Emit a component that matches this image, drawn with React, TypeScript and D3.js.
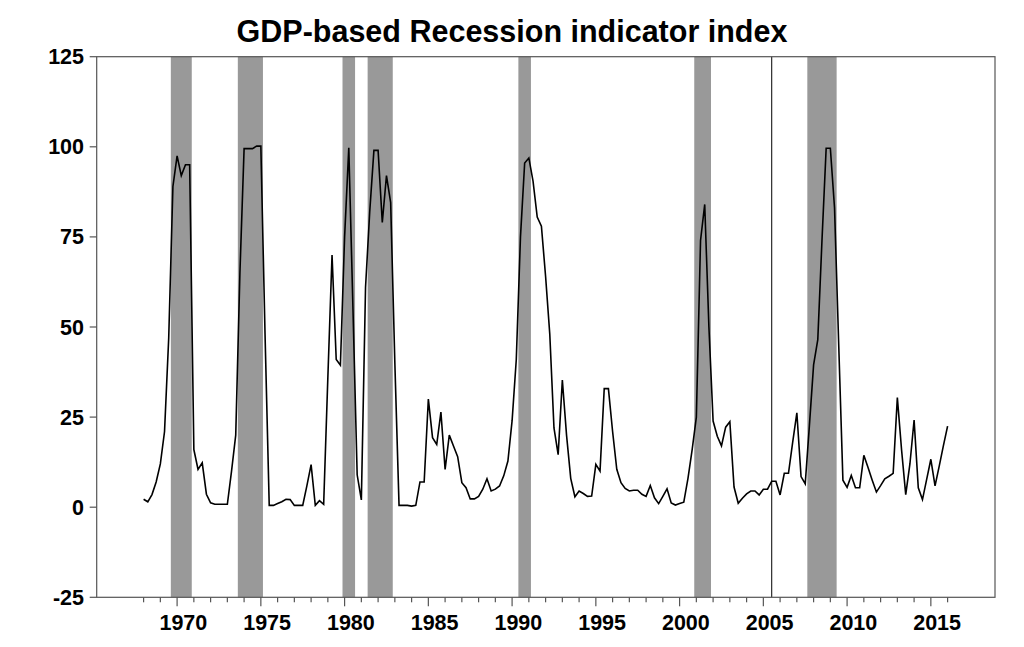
import React from "react";
import * as d3 from "d3";

// ---- Data ----
const chartTitle = "GDP-based Recession indicator index";
const firstObservation = { year: 1968, quarter: 1 };

// Quarterly index values, 1968Q1 .. 2016Q1
const recessionIndex: number[] = [
  // 1968-1973
  2.2, 1.5, 3.5, 7.0, 12, 21, 47, 89, 97.5, 92, 95, 95,
  16, 10.5, 12.3, 3.6, 1.2, 0.8, 0.8, 0.8, 0.8, 10, 20, 65,
  // 1974-1979
  99.5, 99.5, 99.5, 100.2, 100.2, 48, 0.5, 0.5, 1, 1.5, 2.2, 2.1,
  0.5, 0.5, 0.5, 6, 11.8, 0.5, 1.8, 0.8, 36, 70, 41, 39.4,
  // 1980-1985
  75, 99.7, 55, 9, 2, 61, 82, 99, 99, 79, 92, 84.5,
  40, 0.5, 0.5, 0.5, 0.3, 0.5, 7.0, 7.0, 30, 19.3, 17.4, 26.4,
  // 1986-1991
  10.5, 20, 17, 14, 6.8, 5.4, 2.3, 2.3, 3.0, 5.0, 7.9, 4.5,
  5.0, 5.9, 8.7, 12.8, 24, 41, 75, 95.5, 96.9, 90.5, 80.5, 78,
  // 1992-1997
  64, 48, 22, 14.6, 35.3, 20, 8, 2.9, 4.5, 3.8, 3.0, 3.1,
  11.9, 10.0, 32.9, 32.9, 21, 10.5, 6.8, 5.2, 4.5, 4.7, 4.7, 3.6,
  // 1998-2003
  3.0, 6.0, 2.6, 1.0, 3.0, 5.1, 1.2, 0.6, 1.0, 1.4, 8, 16,
  25, 74, 84, 50, 23.9, 19.7, 17, 22.2, 23.7, 5.6, 1.1, 2.5,
  // 2004-2009
  3.7, 4.5, 4.5, 3.4, 5.0, 5.0, 7.2, 7.2, 3.4, 9.4, 9.4, 18,
  26.2, 8.5, 6.5, 22.7, 39.5, 46.5, 74, 99.6, 99.6, 83, 45, 7.5,
  // 2010-2016Q1
  5.5, 8.8, 5.4, 5.4, 14.4, 11, 7.5, 4.2, 6.0, 7.9, 8.6, 9.4,
  30.4, 16, 3.5, 12, 24.2, 5.4, 2.1, 7.7, 13.3, 5.9, 11.4, 17.1,
  22.5,
];

// NBER recessions (start quarter, end quarter)
const recessionStarts = ["1969Q4", "1973Q4", "1980Q1", "1981Q3", "1990Q3", "2001Q1", "2007Q4"];
const recessionEnds = ["1970Q4", "1975Q1", "1980Q3", "1982Q4", "1991Q1", "2001Q4", "2009Q2"];

const markerQuarter = "2005Q3";

const yTickValues = [-25, 0, 25, 50, 75, 100, 125];
const xLabelYears = [1970, 1975, 1980, 1985, 1990, 1995, 2000, 2005, 2010, 2015];
const minorTickFirstYear = 1968;
const minorTickLastYear = 2016;

// ---- Helpers ----
const parseQuarter = (s: string) => {
  const [y, q] = s.split("Q").map(Number);
  return y + (q - 1) / 4;
};

const W = 1024;
const H = 647;
const plot = { left: 96.7, right: 995, top: 56.7, bottom: 597.3 };
const FONT = "'Liberation Sans', Arial, Helvetica, sans-serif";

export default function App() {
  const x = d3.scaleLinear().domain([1965.2, 2018.83]).range([plot.left, plot.right]);
  const y = d3.scaleLinear().domain([-25, 125]).range([plot.bottom, plot.top]);

  const start = firstObservation.year + (firstObservation.quarter - 1) / 4;
  const points: [number, number][] = recessionIndex.map((v, i) => [start + i / 4, v]);
  const line = d3
    .line<[number, number]>()
    .x((d) => x(d[0]))
    .y((d) => y(d[1]));

  const bands = recessionStarts.map((s, i) => ({
    x0: parseQuarter(s) - 0.125,
    x1: parseQuarter(recessionEnds[i]) + 0.125,
  }));

  const minorYears = d3.range(minorTickFirstYear, minorTickLastYear + 1);
  const markerX = x(parseQuarter(markerQuarter));

  return (
    <div style={{ position: "absolute", left: 0, top: 0, width: W, height: H, background: "#fff" }}>
      <svg width={W} height={H} style={{ display: "block" }}>
        <rect x={0} y={0} width={W} height={H} fill="#ffffff" />
        <text
          x={512}
          y={42}
          textAnchor="middle"
          fontFamily={FONT}
          fontWeight="bold"
          fontSize={30.5}
          fill="#000"
        >
          {chartTitle}
        </text>

        {bands.map((b, i) => (
          <rect
            key={i}
            x={x(b.x0)}
            y={plot.top}
            width={x(b.x1) - x(b.x0)}
            height={plot.bottom - plot.top}
            fill="#999999"
          />
        ))}

        <line
          x1={markerX}
          x2={markerX}
          y1={plot.top}
          y2={plot.bottom}
          stroke="#000"
          strokeWidth={1}
        />

        <path d={line(points) || ""} fill="none" stroke="#000" strokeWidth={1.6} strokeLinejoin="miter" />

        <rect
          x={plot.left}
          y={plot.top}
          width={plot.right - plot.left}
          height={plot.bottom - plot.top}
          fill="none"
          stroke="#555"
          strokeWidth={1.2}
        />

        {yTickValues.map((t) => (
          <g key={t}>
            <line x1={plot.left - 7} x2={plot.left} y1={y(t)} y2={y(t)} stroke="#555" strokeWidth={1.2} />
            <text
              x={84}
              y={y(t) + 7.5}
              textAnchor="end"
              fontFamily={FONT}
              fontWeight="bold"
              fontSize={21.5}
              fill="#000"
            >
              {t}
            </text>
          </g>
        ))}

        {minorYears.map((yr) => {
          const major = yr % 5 === 0;
          return (
            <line
              key={yr}
              x1={x(yr)}
              x2={x(yr)}
              y1={plot.bottom}
              y2={plot.bottom + (major ? 9 : 5)}
              stroke="#555"
              strokeWidth={1.2}
            />
          );
        })}

        {xLabelYears.map((yr) => (
          <text
            key={yr}
            x={x(yr + 0.375)}
            y={630}
            textAnchor="middle"
            fontFamily={FONT}
            fontWeight="bold"
            fontSize={21.5}
            fill="#000"
          >
            {yr}
          </text>
        ))}
      </svg>
    </div>
  );
}
